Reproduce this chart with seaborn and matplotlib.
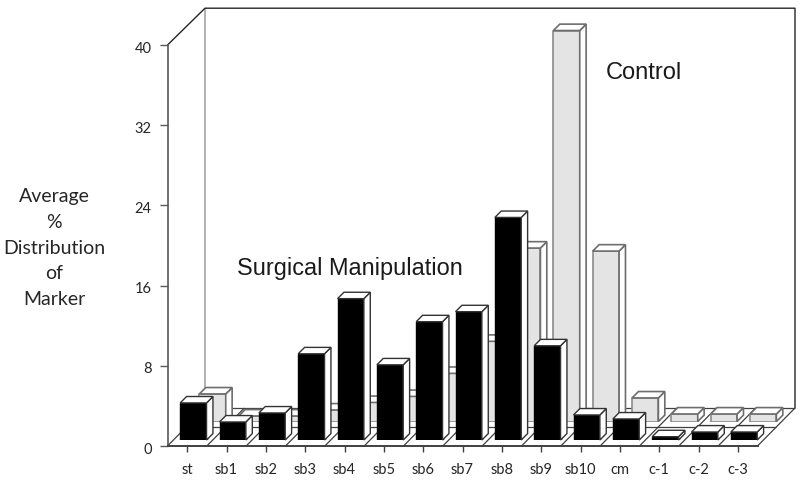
import matplotlib
matplotlib.use('Agg')
import matplotlib.pyplot as plt
import seaborn as sns
from matplotlib.patches import Polygon
from matplotlib.transforms import ScaledTranslation

categories = ['st', 'sb1', 'sb2', 'sb3', 'sb4', 'sb5', 'sb6', 'sb7', 'sb8', 'sb9', 'sb10', 'cm', 'c-1', 'c-2', 'c-3']
surgical = [3.7, 1.8, 2.7, 8.6, 14.1, 7.5, 11.8, 12.8, 22.2, 9.4, 2.5, 2.1, 0.33, 0.8, 0.8]
control = [2.75, 0.55, 0.55, 1.15, 1.9, 2.5, 4.8, 8.0, 17.3, 39.0, 17.0, 2.35, 0.75, 0.75, 0.75]
y_ticks = [0, 8, 16, 24, 32, 40]
side_label = 'Average\n%\nDistribution\nof\nMarker'

W, H = 800, 483
PX_X = 590 / 15  # pixels per category
PX_Y = 401 / 40  # pixels per percent
DEPTH_X = 37.5   # floor depth in pixels
DEPTH_Y = 36.8
BAR_DEPTH = 6.4


def place(fig, dx=0, dy=0):
    # axes covering the chart's front plane, shifted back along the floor
    ax = fig.add_axes([(167.5 + dx) / W, (37 + dy) / H, 590 / W, 401 / H])
    ax.set_xlim(-0.5, 14.5)
    ax.set_ylim(0, 40)
    ax.patch.set_alpha(0)
    return ax


def draw_row(fig, values, dx, dy, face, edge, side_edge, lw):
    ax = place(fig, dx, dy)
    sns.barplot(x=categories, y=values, color=face, saturation=1, width=0.67,
                edgecolor=edge, linewidth=lw, ax=ax)
    ax.set_xlim(-0.5, 14.5)
    ax.set_ylim(0, 40)
    ax.set_axis_off()
    ox, oy = BAR_DEPTH / PX_X, BAR_DEPTH / PX_Y
    for bar in list(ax.patches):
        x0, w, h = bar.get_x(), bar.get_width(), bar.get_height()
        side = [(x0 + w, 0), (x0 + w + ox, oy), (x0 + w + ox, h + oy), (x0 + w, h)]
        top = [(x0, h), (x0 + ox, h + oy), (x0 + w + ox, h + oy), (x0 + w, h)]
        for pts in (side, top):
            ax.add_patch(Polygon(pts, closed=True, facecolor='white', edgecolor=side_edge,
                                 linewidth=lw, clip_on=False))


def draw_frame(ax):
    ox, oy = DEPTH_X / PX_X, DEPTH_Y / PX_Y
    x0, x1 = -0.5, 14.5
    floor_y = 38 / PX_Y
    line = dict(clip_on=False, solid_capstyle='butt')
    # walls
    ax.plot([x0 + ox, x0 + ox], [floor_y, 40 + oy], color='#a6a6a6', lw=1.2, **line)
    ax.plot([x0, x0 + ox, x1 + ox, x1 + ox], [40, 40 + oy, 40 + oy, floor_y], color='#262626', lw=1.0, **line)
    # floor
    for i in range(16):
        ax.plot([x0 + i, x0 + i + ox], [0, floor_y], color='#404040', lw=0.9, **line)
    ax.plot([x0 + ox, x1 + ox], [floor_y, floor_y], color='#404040', lw=0.9, **line)
    ax.plot([x0 + ox / 2, x1 + ox / 2], [floor_y / 2, floor_y / 2], color='#404040', lw=0.9, **line)


sns.set_theme(style='white')
plt.rcParams['font.family'] = ['Lato', 'DejaVu Sans']

fig = plt.figure(figsize=(W / 100, H / 100), dpi=100, facecolor='white')

main = place(fig)
draw_frame(main)
main.set_xticks(range(len(categories)))
main.set_xticklabels(categories)
main.set_yticks(y_ticks)
main.tick_params(axis='x', bottom=True, length=4, width=1, color='#404040', labelsize=10.5, pad=8, labelcolor='#262626')
main.tick_params(axis='y', left=True, length=5.5, width=1, color='#595959', labelsize=10.5, pad=6, labelcolor='#262626')
shift = ScaledTranslation(0, -2 / 100, fig.dpi_scale_trans)
for label in main.get_yticklabels():
    label.set_transform(label.get_transform() + shift)
for name in ('top', 'right'):
    main.spines[name].set_visible(False)
main.spines['left'].set_color('#595959')
main.spines['bottom'].set_color('#404040')
main.spines['left'].set_linewidth(1.2)
main.spines['bottom'].set_linewidth(1.4)

draw_row(fig, control, 25.4, 24.5, '#e4e4e4', '#8c8c8c', '#6e6e6e', 1.2)
draw_row(fig, surgical, 6.2, 6, 'black', 'black', '#333333', 1.0)

fig.text(54 / W, 1 - 248 / H, side_label, ha='center', va='center', fontsize=14,
         linespacing=1.62, color='#262626')
fig.text(606 / W, 1 - 73 / H, 'Control', ha='left', va='center', fontsize=17,
         family='Liberation Sans', color='#1a1a1a')
fig.text(237 / W, 1 - 268 / H, 'Surgical Manipulation', ha='left', va='center', fontsize=16.9,
         family='Liberation Sans', color='#1a1a1a')

fig.savefig('out.png', dpi=100)
